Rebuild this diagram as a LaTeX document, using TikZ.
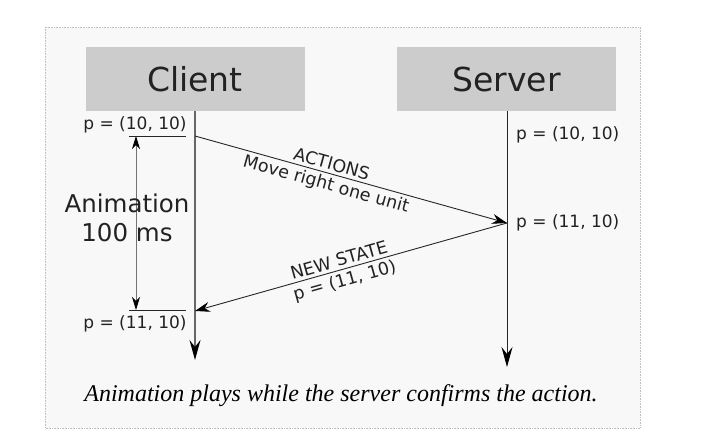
\documentclass[tikz,border=0pt]{standalone}
\usepackage{fontspec}
\setmainfont{DejaVu Sans}
\newfontfamily\capfont{Liberation Serif}
\usetikzlibrary{arrows.meta}
\definecolor{bgc}{HTML}{F8F8F8}
\definecolor{boxc}{HTML}{CCCCCC}
\definecolor{txt}{HTML}{222222}
\begin{document}
\begin{tikzpicture}[x=1pt,y=-1pt,
  actor/.style={fill=boxc,draw=none,minimum width=219pt,minimum height=64pt,inner sep=0pt,
    font=\fontsize{33}{36}\selectfont,text=txt},
  plabel/.style={font=\fontsize{17}{19}\selectfont,text=txt,inner sep=1pt},
  msg/.style={draw=black!85,line width=0.9pt,-{Stealth[length=15pt,width=10pt,inset=5pt,black]}},
  life/.style={line width=0.9pt,-{Stealth[length=20pt,width=11pt,inset=7pt,black]}},
  mlabel/.style={font=\fontsize{17.5}{19}\selectfont,text=txt,sloped,inner sep=3pt}]
\useasboundingbox (0,0) rectangle (725,443);
\fill[white] (0,0) rectangle (725,443);
\draw[fill=bgc,draw=black!25,densely dotted,line width=0.6pt] (45,27) rectangle (640,428);
% actors
\node[actor] (client) at (195,79) {Client};
\node[actor] (server) at (506.5,79) {Server};
% lifelines
\coordinate (cend) at (195,360);
\coordinate (send) at (507,367);
\draw[life,draw=black!60,line width=1.8pt] (client.south) -- (cend);
\draw[life,draw=black!85] (server.south -| send) -- (send);
% client times
\coordinate (c1) at (195,136);
\coordinate (c2) at (195,311);
\coordinate (s1) at (507,223);
\node[plabel] (pc1) at (135,125) {p = (10, 10)};
\node[plabel] (pc2) at (135,324) {p = (11, 10)};
\node[plabel,anchor=west] (ps1) at (515,135) {p = (10, 10)};
\node[plabel,anchor=west] (ps2) at (515,223) {p = (11, 10)};
\coordinate (h1a) at (129,136); \coordinate (h1b) at (186,136);
\coordinate (h2a) at (129,310); \coordinate (h2b) at (186,310);
\draw[black!85,line width=0.9pt] (h1a) -- (h1b);
\draw[black!85,line width=0.9pt] (h2a) -- (h2b);
\coordinate (da) at (136,136); \coordinate (db) at (136,310);
\draw[draw=black!55,line width=0.9pt,{Stealth[length=13pt,width=8pt,inset=4pt,black]}-{Stealth[length=13pt,width=8pt,inset=4pt,black]}] (da) -- (db);
\node[font=\fontsize{24.5}{29}\selectfont,text=txt,align=center,inner sep=0pt] (anim) at (127,218) {Animation\\100 ms};
% messages
\draw[msg] (c1) -- node[mlabel,pos=0.43,above] (m1a) {ACTIONS} node[mlabel,pos=0.43,below] (m1b) {Move right one unit} (s1);
\draw[msg] (s1) -- node[mlabel,pos=0.53,above] (m2a) {NEW STATE} node[mlabel,pos=0.53,below] (m2b) {p = (11, 10)} (c2);
% caption
\node[font=\capfont\itshape\fontsize{24}{28}\selectfont,text=black] (cap) at (341,396) {Animation plays while the server confirms the action.};
\end{tikzpicture}
\end{document}
